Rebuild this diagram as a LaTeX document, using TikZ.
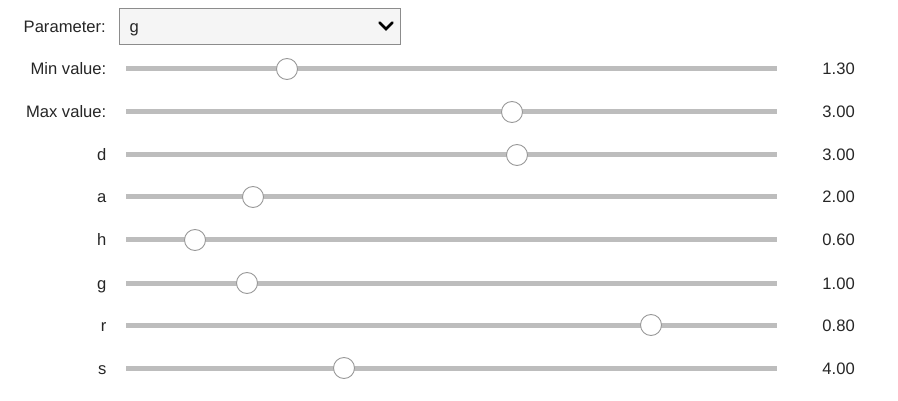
\documentclass[tikz,border=0pt]{standalone}
\usepackage{fontspec}
\setmainfont{Liberation Sans}
\begin{document}
\begin{tikzpicture}[x=1pt,y=-1pt,
  lbl/.style={anchor=base east,inner sep=0pt,font=\fontsize{16.6}{19}\selectfont,text=black!85},
  val/.style={anchor=base east,inner sep=0pt,font=\fontsize{16.6}{19}\selectfont,text=black!85},
  track/.style={line width=5pt,draw=black!26},
  knob/.style={circle,draw=black!40,fill=white,line width=0.9pt,minimum size=21pt,inner sep=0pt},
  ddbox/.style={draw=black!45,fill=black!4,line width=1pt,minimum width=281pt,minimum height=36pt,inner sep=0pt}]
\useasboundingbox (0,0) rectangle (898,401);
\node[lbl] (plabel) at (106,33) {Parameter:};
\node[ddbox,anchor=north west] (dd) at (118.5,8.5) {};
\node[anchor=base west,inner sep=0pt,font=\fontsize{16.6}{19}\selectfont,text=black!85] (ddtext) at (129.5,33) {g};
\coordinate (chevL) at (379.5,22.5);
\coordinate (chevM) at (386,29);
\coordinate (chevR) at (392.5,22.5);
\draw[line width=2.6pt,line cap=round,line join=miter] (chevL) -- (chevM) -- (chevR);
\foreach \name/\txt/\y/\k/\v in {
  mn/Min value:/69/287/1.30,
  mx/Max value:/112/512/3.00,
  d/d/155/517/3.00,
  a/a/197/253/2.00,
  h/h/240/195/0.60,
  g/g/283/247/1.00,
  r/r/325/651/0.80,
  s/s/368/344/4.00}{
  \node[lbl] (\name-l) at (106.5,\y+6) {\txt};
  \coordinate (\name-a) at (126,\y);
  \coordinate (\name-b) at (777,\y);
  \draw[track] (\name-a) -- (\name-b);
  \node[knob] (\name-k) at (\k,\y) {};
  \node[val] (\name-v) at (855,\y+6) {\v};
}
\end{tikzpicture}
\end{document}
